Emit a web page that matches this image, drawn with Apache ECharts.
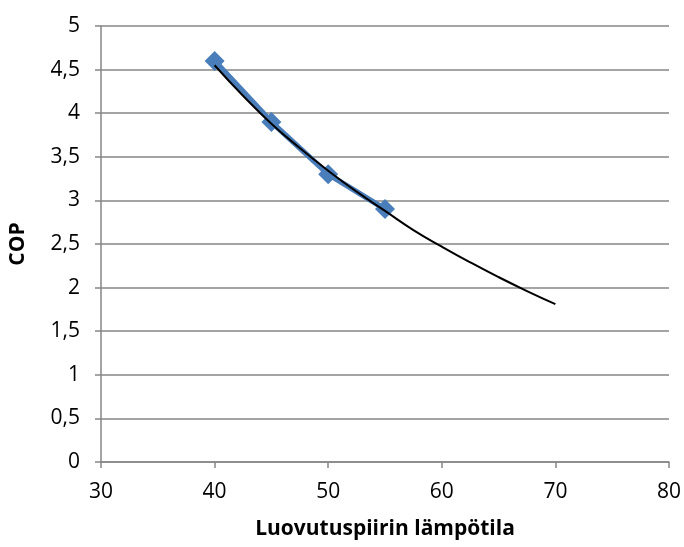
<!DOCTYPE html>
<html>
<head>
<meta charset="utf-8">
<script src="https://cdn.jsdelivr.net/npm/echarts@6/dist/echarts.min.js"></script>
<style>
  html, body { margin: 0; padding: 0; background: #fff; }
  #main { width: 684px; height: 547px; }
</style>
</head>
<body>
<div id="main"></div>
<script>
// measured COP values
const tempX = [40, 45, 50, 55];
const copY = [4.6, 3.9, 3.3, 2.9];

// trend line
const trendX = [40, 42.5, 45, 47.5, 50, 52.5, 55, 57.5, 60, 62.5, 65, 67.5, 70];
const trendY = [4.55, 4.2, 3.88, 3.6, 3.34, 3.1, 2.88, 2.66, 2.47, 2.29, 2.12, 1.96, 1.81];

const xTitle = 'Luovutuspiirin lämpötila';
const yTitle = 'COP';

const chartDom = document.getElementById('main');
const myChart = echarts.init(chartDom);

const font = 'Open Sans, Noto Sans, sans-serif';
const grey = '#868686';

const option = {
  animation: false,
  grid: { left: 100, right: 15, top: 26, bottom: 85 },
  xAxis: {
    type: 'value',
    min: 30, max: 80, interval: 10,
    name: xTitle,
    nameLocation: 'middle',
    nameGap: 57,
    nameTextStyle: { fontFamily: font, fontSize: 21, fontWeight: 'bold', color: '#000' },
    axisLine: { lineStyle: { color: grey, width: 1.5 } },
    axisTick: { show: true, length: 6, lineStyle: { color: grey, width: 1.5 } },
    axisLabel: { fontFamily: font, fontSize: 21, color: '#000', margin: 20 },
    splitLine: { show: false }
  },
  yAxis: {
    type: 'value',
    min: 0, max: 5, interval: 0.5,
    name: yTitle,
    nameLocation: 'middle',
    nameGap: 72,
    nameTextStyle: { fontFamily: font, fontSize: 21, fontWeight: 'bold', color: '#000' },
    axisLine: { show: true, lineStyle: { color: grey, width: 1.5 } },
    axisTick: { show: true, length: 6, lineStyle: { color: grey, width: 1.5 } },
    axisLabel: {
      fontFamily: font, fontSize: 21, color: '#000', margin: 21,
      formatter: v => String(v).replace('.', ',')
    },
    splitLine: { show: true, lineStyle: { color: grey, width: 1.5 } }
  },
  series: [
    {
      type: 'line',
      data: tempX.map((x, i) => [x, copY[i]]),
      lineStyle: { color: '#4a7ebb', width: 5.5 },
      itemStyle: { color: '#4a7ebb' },
      symbol: 'diamond',
      symbolSize: 20,
      z: 2
    },
    {
      type: 'line',
      data: trendX.map((x, i) => [x, trendY[i]]),
      smooth: true,
      showSymbol: false,
      lineStyle: { color: '#000', width: 2 },
      z: 3
    }
  ]
};

option && myChart.setOption(option);
</script>
</body>
</html>
